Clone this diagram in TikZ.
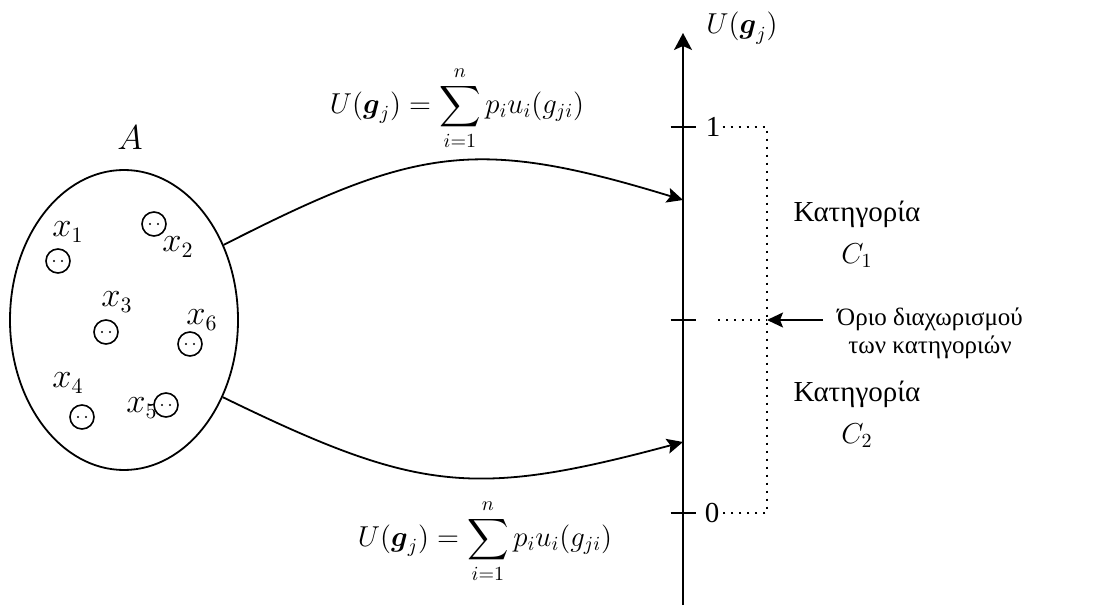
\documentclass[tikz,border=0pt]{standalone}
\usepackage{amsmath}
\usepackage{fontspec}
\setmainfont{Liberation Serif}
\usetikzlibrary{arrows.meta,positioning,shapes.geometric}
\tikzset{
  setbox/.style={ellipse, draw, line width=0.9pt, minimum width=114pt,
    minimum height=150pt, inner sep=0pt},
  elem/.style={circle, draw, line width=0.8pt, minimum size=12pt, inner sep=0pt,
    path picture={
      \fill ([xshift=-2pt]path picture bounding box.center) circle (0.6pt);
      \fill ([xshift=2pt]path picture bounding box.center) circle (0.6pt);}},
  lbl/.style={font=\fontsize{14.5}{21}\selectfont, inner sep=1pt, align=center},
  varlbl/.style={font=\fontsize{16}{19}\selectfont, inner sep=1pt},
  note/.style={font=\fontsize{12.5}{14}\selectfont, align=center, inner sep=1pt},
  arr/.style={-{Stealth[length=8pt, width=7.5pt, inset=1.5pt]}, line width=0.9pt},
  dotline/.style={line width=1pt, dash pattern=on 1pt off 3pt},
  tickline/.style={line width=0.9pt}
}
\begin{document}
\begin{tikzpicture}[x=0.5pt,y=0.5pt]
  \useasboundingbox (0,0) rectangle (1107,605);
  \node[setbox] (setA) at (124,285) {};
  \node[varlbl] (labA) at (130,467) {$A$};
  \node[elem] (e1) at (58,344) {};
  \node[elem] (e2) at (154,381) {};
  \node[elem] (e3) at (106,273) {};
  \node[elem] (e4) at (82,188) {};
  \node[elem] (e5) at (166,200) {};
  \node[elem] (e6) at (190,261) {};
  \node[varlbl] (lx1) at (68,373) {$x_1$};
  \node[varlbl] (lx2) at (178,358) {$x_2$};
  \node[varlbl] (lx3) at (117,303) {$x_3$};
  \node[varlbl] (lx4) at (68,222) {$x_4$};
  \node[varlbl] (lx5) at (142,197) {$x_5$};
  \node[varlbl] (lx6) at (202,285) {$x_6$};

  \coordinate (axbot) at (683,0);
  \coordinate (axtop) at (683,572);
  \draw[-{Stealth[length=8.5pt, width=9pt, inset=2pt]}, line width=0.9pt] (axbot) -- (axtop);
  \node[lbl] (ulab) at (742,577) {$U(\boldsymbol{g}_j)$};
  \coordinate (t1) at (683,478);
  \coordinate (tm) at (683,285);
  \coordinate (t0) at (683,92);
  \foreach \t in {t1,tm,t0}
    \draw[tickline] ([xshift=-6.25pt]\t) -- ([xshift=6.25pt]\t);
  \coordinate (hitup) at (683,405);
  \coordinate (hitdown) at (683,163);

  \node[lbl] (one) at (713,478) {1};
  \node[lbl] (zero) at (712,92) {0};
  \coordinate (c1) at (767,478);
  \coordinate (cm) at (767,285);
  \coordinate (c0) at (767,92);
  \coordinate (mstart) at (718,285);
  \draw[dotline] (one.east) -- (c1) -- (c0) -- (zero.east);
  \draw[dotline] (mstart) -- (cm);

  \node[lbl] (cat1) at (857,371) {Κατηγορία\\$C_1$};
  \node[lbl] (cat2) at (857,191) {Κατηγορία\\$C_2$};
  \node[note] (bound) at (930,272) {Όριο διαχωρισμού\\των κατηγοριών};
  \coordinate (bstart) at (823,285);
  \draw[arr] (bstart) -- (cm);

  \draw[arr] (setA.37.5) to[out=27, in=163, looseness=1.2] (hitup);
  \draw[arr] (setA.-38) to[out=-26, in=195, looseness=1.2] (hitdown);
  \node[lbl] (ftop) at (457,497) {$\displaystyle U(\boldsymbol{g}_j)=\sum_{i=1}^{n}p_iu_i(g_{ji})$};
  \node[lbl] (fbot) at (485,64) {$\displaystyle U(\boldsymbol{g}_j)=\sum_{i=1}^{n}p_iu_i(g_{ji})$};
\end{tikzpicture}
\end{document}
